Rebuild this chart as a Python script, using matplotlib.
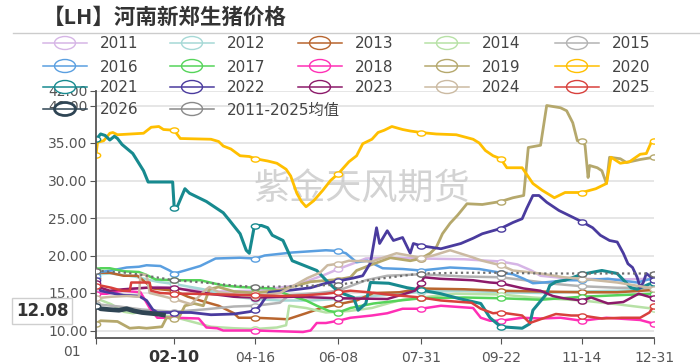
import matplotlib
matplotlib.use("Agg")
import matplotlib.pyplot as plt
from matplotlib.patches import Ellipse
from matplotlib.path import Path
from matplotlib.transforms import Affine2D

# --- data: (day index, price) ---
tick_days = [0, 51, 104, 158, 212, 264, 317, 364]
tick_labels = ["", "02-10", "04-16", "06-08", "07-31", "09-22", "11-14", "12-31"]
y_ticks = [10, 15, 20, 25, 30, 35, 40, 42]

s2011 = [(0, 15.0), (20, 15.5), (40, 15.8), (51, 15.6), (80, 15.2), (104, 15.3), (130, 16.0), (150, 17.5),
         (158, 18.2), (166, 18.8), (176, 19.6), (190, 19.7), (212, 19.6), (240, 19.5), (264, 19.2), (275, 18.8),
         (284, 18.0), (290, 17.3), (305, 17.0), (317, 16.9), (340, 16.8), (364, 16.9)]
s2012 = [(0, 17.5), (10, 17.6), (25, 17.2), (40, 16.5), (51, 16.2), (70, 15.5), (90, 14.5), (104, 14.2),
         (120, 14.0), (140, 14.0), (158, 14.2), (180, 14.6), (200, 14.9), (212, 15.2), (240, 15.3), (264, 15.1),
         (290, 15.0), (317, 15.2), (340, 15.3), (364, 15.5)]
s2013 = [(0, 17.0), (3, 17.7), (9, 17.7), (18, 17.3), (27, 17.3), (33, 16.3), (37, 15.6), (51, 15.3), (60, 14.5),
         (68, 14.0), (80, 13.3), (90, 12.3), (93, 11.7), (104, 11.7), (115, 11.6), (125, 11.5), (137, 12.3),
         (147, 13.0), (158, 13.5), (170, 14.0), (181, 15.0), (198, 15.1), (212, 15.6), (240, 15.5), (264, 15.3),
         (290, 15.2), (317, 15.1), (340, 15.1), (364, 15.4)]
s2014 = [(0, 14.3), (10, 13.5), (18, 12.5), (24, 12.3), (33, 12.6), (45, 12.0), (51, 11.8), (62, 11.2), (75, 10.5),
         (90, 10.3), (104, 10.2), (118, 10.4), (124, 10.7), (126, 13.3), (137, 13.0), (150, 12.4), (158, 12.5),
         (165, 12.6), (180, 13.0), (192, 13.7), (200, 14.1), (212, 14.4), (235, 14.9), (264, 14.8), (285, 14.4),
         (317, 14.0), (340, 13.5), (364, 12.9)]
s2015 = [(0, 13.5), (15, 13.2), (30, 12.8), (51, 12.5), (70, 12.8), (90, 13.2), (104, 13.3), (120, 13.7),
         (126, 14.7), (145, 15.0), (158, 15.3), (176, 16.7), (190, 17.3), (212, 17.5), (240, 17.2), (264, 17.1),
         (280, 16.7), (300, 16.2), (317, 15.9), (340, 15.7), (364, 15.7)]
s2016 = [(0, 17.3), (3, 17.8), (10, 18.0), (20, 18.4), (28, 18.5), (33, 18.7), (42, 18.6), (48, 18.0), (51, 17.6),
         (58, 18.0), (68, 18.6), (78, 19.6), (94, 19.7), (104, 19.6), (110, 20.0), (128, 20.4), (150, 20.7),
         (158, 20.6), (163, 20.3), (170, 19.1), (177, 19.3), (187, 18.3), (200, 18.2), (212, 18.0), (231, 18.4),
         (250, 18.2), (264, 17.7), (272, 17.5), (279, 16.9), (285, 16.3), (292, 16.4), (307, 16.7), (317, 16.7),
         (334, 16.9), (353, 16.4), (364, 17.0)]
s2017 = [(0, 18.1), (3, 18.3), (9, 18.3), (18, 17.9), (28, 17.8), (33, 17.4), (39, 16.8), (51, 16.7), (68, 16.7),
         (83, 16.0), (94, 15.8), (104, 15.7), (115, 15.6), (126, 14.7), (137, 14.0), (144, 13.3), (152, 12.6),
         (158, 12.4), (166, 13.0), (181, 13.6), (198, 14.0), (212, 14.3), (240, 14.4), (264, 14.3), (290, 14.1),
         (317, 14.5), (340, 14.7), (364, 14.9)]
s2018 = [(0, 14.9), (7, 14.9), (17, 15.3), (29, 15.1), (35, 13.0), (40, 11.7), (51, 11.7), (67, 11.6), (72, 10.4),
         (79, 10.3), (83, 10.0), (104, 10.0), (120, 9.9), (135, 9.8), (140, 10.0), (144, 11.0), (150, 11.0),
         (158, 11.3), (166, 11.7), (180, 12.0), (190, 12.3), (200, 12.9), (212, 12.9), (225, 13.3), (246, 13.0),
         (251, 11.7), (257, 11.3), (264, 11.3), (278, 11.7), (290, 11.6), (303, 11.7), (317, 11.3), (333, 11.7),
         (355, 11.4), (364, 10.9)]
s2019 = [(0, 10.9), (3, 11.3), (14, 11.2), (22, 10.3), (28, 10.4), (33, 10.3), (43, 10.5), (46, 11.7), (51, 11.6),
         (54, 11.7), (58, 13.3), (64, 13.6), (70, 13.3), (74, 15.5), (80, 15.8), (90, 15.2), (104, 15.0),
         (120, 15.4), (140, 16.5), (158, 16.8), (166, 17.1), (170, 18.0), (180, 18.8), (192, 19.7), (205, 19.3),
         (212, 19.6), (218, 20.3), (222, 21.1), (226, 22.9), (231, 24.3), (236, 25.4), (242, 26.9), (252, 26.8),
         (264, 27.2), (272, 27.7), (279, 28.0), (282, 34.4), (290, 34.7), (294, 40.0), (303, 39.7), (307, 39.3),
         (311, 37.7), (314, 35.3), (317, 35.3), (319, 34.7), (321, 30.4), (322, 32.0), (327, 31.7), (330, 31.3),
         (333, 29.6), (335, 33.1), (342, 32.9), (346, 32.4), (355, 32.8), (364, 33.1)]
s2020 = [(0, 33.4), (1, 35.1), (5, 35.3), (9, 36.3), (11, 36.4), (14, 36.1), (31, 36.3), (36, 37.1), (41, 37.2),
         (44, 36.8), (51, 36.7), (55, 35.6), (75, 35.5), (80, 35.2), (83, 34.6), (88, 34.2), (94, 33.3),
         (100, 33.2), (104, 32.9), (112, 32.6), (118, 32.3), (124, 31.5), (127, 30.6), (131, 28.3), (134, 27.2),
         (137, 26.5), (142, 27.3), (148, 28.7), (153, 30.0), (158, 30.9), (165, 32.5), (170, 33.3), (174, 34.9),
         (180, 35.5), (184, 36.4), (188, 36.7), (193, 37.2), (200, 36.8), (205, 36.6), (212, 36.4), (222, 36.2),
         (235, 36.1), (246, 35.5), (250, 35.0), (254, 34.0), (259, 33.3), (264, 32.9), (268, 31.7), (278, 31.7),
         (282, 30.5), (285, 29.6), (291, 28.7), (299, 27.7), (306, 28.4), (317, 28.4), (326, 28.9), (333, 29.6),
         (336, 33.1), (342, 32.3), (348, 32.5), (355, 33.5), (359, 33.6), (362, 35.0), (364, 35.3)]
s2021 = [(0, 35.5), (1, 35.7), (3, 36.2), (6, 36.0), (9, 35.4), (12, 35.9), (14, 35.6), (17, 34.8), (24, 33.6),
         (31, 31.3), (34, 29.8), (50, 29.8), (51, 26.4), (53, 26.5), (58, 28.9), (61, 28.3), (72, 27.2),
         (83, 25.7), (87, 24.7), (94, 22.9), (98, 20.7), (100, 20.3), (103, 23.6), (104, 24.0), (108, 24.0),
         (112, 23.7), (115, 22.7), (122, 22.0), (128, 19.3), (144, 18.0), (152, 16.3), (158, 15.2), (160, 15.0),
         (168, 14.4), (171, 12.7), (176, 13.6), (179, 16.4), (191, 16.3), (203, 15.7), (212, 15.4), (225, 14.9),
         (236, 14.3), (251, 13.6), (257, 11.7), (264, 10.5), (278, 10.3), (283, 10.9), (285, 12.7), (294, 14.9),
         (296, 16.0), (300, 16.5), (306, 16.7), (317, 17.5), (330, 18.0), (340, 17.6), (349, 15.7), (353, 15.5),
         (361, 16.2), (364, 16.3)]
s2022 = [(0, 16.8), (3, 15.3), (10, 15.0), (18, 14.7), (28, 14.6), (33, 14.0), (37, 12.8), (40, 12.4), (51, 12.4),
         (62, 12.4), (75, 12.1), (90, 12.2), (100, 12.5), (104, 12.7), (107, 13.3), (113, 15.1), (128, 15.4),
         (140, 15.7), (150, 16.3), (158, 16.6), (168, 17.0), (174, 17.3), (179, 19.0), (183, 23.7), (185, 21.6),
         (190, 23.3), (194, 22.0), (200, 22.4), (205, 20.3), (207, 21.6), (212, 21.3), (225, 20.9), (238, 21.6),
         (246, 22.3), (252, 22.9), (264, 23.6), (272, 24.4), (278, 24.9), (281, 26.3), (285, 28.0), (289, 28.0),
         (294, 27.1), (302, 26.0), (311, 25.1), (317, 24.5), (324, 23.7), (329, 22.7), (335, 22.0), (340, 21.8),
         (344, 20.3), (347, 18.9), (350, 18.4), (353, 17.1), (355, 15.7), (357, 16.4), (359, 17.6), (364, 16.8)]
s2023 = [(0, 16.3), (3, 15.7), (9, 15.3), (18, 15.5), (33, 15.7), (45, 15.7), (51, 15.7), (62, 15.3), (74, 14.9),
         (90, 14.5), (104, 14.4), (130, 14.5), (158, 14.3), (190, 14.2), (200, 14.8), (208, 15.3), (212, 16.3),
         (214, 17.1), (224, 16.9), (246, 16.7), (257, 16.4), (264, 16.3), (279, 15.6), (290, 15.3), (298, 14.6),
         (305, 14.3), (317, 14.0), (323, 14.4), (334, 13.6), (344, 13.8), (354, 14.9), (364, 14.3)]
s2024 = [(0, 14.3), (10, 14.5), (20, 14.6), (28, 14.5), (29, 17.5), (33, 17.4), (35, 15.0), (45, 14.5), (51, 14.2),
         (62, 13.5), (72, 15.5), (74, 15.8), (80, 15.1), (95, 14.7), (104, 14.6), (120, 15.0), (131, 16.2),
         (138, 17.0), (146, 17.7), (151, 18.7), (158, 18.9), (165, 19.3), (180, 19.2), (196, 20.3), (212, 19.7),
         (220, 20.0), (231, 20.7), (245, 19.8), (252, 19.3), (264, 18.7), (272, 18.0), (290, 17.6), (305, 17.1),
         (317, 16.9), (340, 16.4), (364, 15.6)]
s2025 = [(0, 15.9), (3, 16.0), (10, 15.7), (17, 15.3), (22, 15.3), (23, 16.4), (35, 16.4), (36, 15.3), (42, 15.0),
         (51, 14.9), (62, 14.9), (83, 14.8), (104, 14.7), (120, 14.6), (137, 14.7), (150, 14.9), (158, 15.1),
         (166, 15.3), (178, 15.1), (190, 14.8), (212, 14.4), (225, 14.0), (245, 13.7), (251, 12.9), (259, 12.3),
         (264, 12.4), (278, 12.0), (283, 11.0), (290, 11.5), (300, 12.2), (310, 12.0), (317, 12.0), (330, 11.6),
         (343, 11.7), (355, 11.7), (361, 12.4), (364, 13.3)]
s2026 = [(0, 13.3), (3, 12.9), (8, 12.8), (15, 12.7), (20, 12.9), (25, 12.6), (30, 12.4), (35, 12.3), (40, 12.2),
         (44, 12.08)]
s_avg = [(0, 18.0), (10, 17.8), (20, 17.7), (30, 17.4), (51, 16.7), (70, 16.4), (90, 16.0), (104, 15.8),
         (130, 15.9), (158, 16.1), (185, 16.9), (212, 17.6), (240, 17.7), (264, 17.7), (290, 17.6), (317, 17.6),
         (340, 17.6), (364, 17.6)]

series = [
    ("2011", s2011, "#d6b5e6", 1.8),
    ("2012", s2012, "#a6d9d6", 1.8),
    ("2013", s2013, "#b8652e", 1.8),
    ("2014", s2014, "#b7e1a6", 1.8),
    ("2015", s2015, "#b3b3b3", 1.8),
    ("2016", s2016, "#5a9fe0", 1.8),
    ("2017", s2017, "#55d45a", 1.8),
    ("2018", s2018, "#ff2fb5", 1.8),
    ("2019", s2019, "#b5a86c", 2.0),
    ("2020", s2020, "#ffbf00", 2.0),
    ("2021", s2021, "#178a8f", 2.2),
    ("2022", s2022, "#4a3b9e", 2.0),
    ("2023", s2023, "#8c1a6a", 1.8),
    ("2024", s2024, "#cbbaa2", 1.8),
    ("2025", s2025, "#d8403c", 1.8),
]

W, H = 700, 364
fig = plt.figure(figsize=(W / 100, H / 100), dpi=100)

# plot area in pixels: x 96..654, y 90..338
ax = fig.add_axes([96 / W, 1 - 338 / H, (654 - 96) / W, (338 - 90.5) / H])
ax.set_xlim(0, 364)
ax.set_ylim(9, 42)

# squashed circle marker, the picture is stretched sideways
ell = Path.unit_circle().transformed(Affine2D().scale(1.6, 1.0))


def draw(data, color, lw, ls="-", z=2, marks=True):
    xs = [d for d, v in data]
    ys = [v for d, v in data]
    idx = [i for i, d in enumerate(xs) if d in tick_days] if marks else [0]
    ax.plot(xs, ys, color=color, lw=lw, ls=ls, zorder=z, solid_joinstyle="round",
            marker=ell, markevery=idx, ms=6, mfc="white", mec=color, mew=1.0)


for name, data, color, lw in series:
    draw(data, color, lw)
draw(s_avg, "#6e6e6e", 1.6, ls=(0, (1, 1.5)), z=3)
draw(s2026, "#2f4554", 3.4, z=4, marks=False)

# axes styling
ax.set_yticks(y_ticks)
ax.set_yticklabels([f"{v:.2f}" for v in y_ticks])
ax.set_xticks(tick_days)
ax.set_xticklabels(tick_labels)
ax.grid(axis="y", color="#e2e2e2", lw=1.2)
ax.set_axisbelow(True)
for s in ["top", "right"]:
    ax.spines[s].set_visible(False)
for s in ["left", "bottom"]:
    ax.spines[s].set_color("#555555")
    ax.spines[s].set_linewidth(1.3)
ax.tick_params(axis="y", length=4, color="#555555", labelsize=10, labelcolor="#555555", pad=2)
ax.tick_params(axis="x", length=4, color="#555555", labelsize=10, labelcolor="#555555", pad=5)
lab = ax.get_xticklabels()[1]
lab.set_fontweight("bold")
lab.set_fontsize(11.5)
lab.set_color("#333333")

# watermark
ax.text(0.477, 0.60, "紫金天风期货", transform=ax.transAxes, ha="center", va="center",
        fontsize=26, color="#c8c8c8", alpha=0.8, family=["Noto Sans CJK SC"], zorder=1)

# overlay in pixel coordinates for title, legend and pointer labels
ov = fig.add_axes([0, 0, 1, 1], zorder=5)
ov.set_xlim(0, W)
ov.set_ylim(H, 0)
ov.axis("off")
ov.patch.set_alpha(0)

ov.text(43, 17, "【LH】河南新郑生猪价格", fontsize=15.5, fontweight="bold", color="#333333",
        ha="left", va="center", family=["Noto Sans CJK SC"])
ov.plot([13, 700], [33, 33], color="#cccccc", lw=1)

legend_items = [(n, c, 1.0) for n, _, c, _ in series]
legend_items += [("2026", "#2f4554", 2.0), ("2011-2025均值", "#8a8a8a", 1.0)]
row_y = [43, 66, 87, 109]
col_x = [65, 192, 320, 447, 577]
for i, (name, color, ew) in enumerate(legend_items):
    cx = col_x[i % 5]
    cy = row_y[i // 5]
    ov.plot([cx - 22, cx + 22], [cy, cy], color=color, lw=1.1)
    ov.add_patch(Ellipse((cx, cy), 21, 13, facecolor="white", edgecolor=color, lw=ew))
    ov.text(cx + 35, cy + 1, name, fontsize=11, color="#444444", ha="left", va="center",
            family=["DejaVu Sans", "Noto Sans CJK SC"])

# axis pointer labels
ov.text(42, 311, "12.08", fontsize=12, fontweight="bold", color="#333333", ha="center", va="center",
        bbox=dict(boxstyle="square,pad=0.25", fc="white", ec="#cfcfcf", lw=1))
ov.text(72, 352, "01", fontsize=10, color="#555555", ha="center", va="center")

fig.savefig("out.png", dpi=100)
